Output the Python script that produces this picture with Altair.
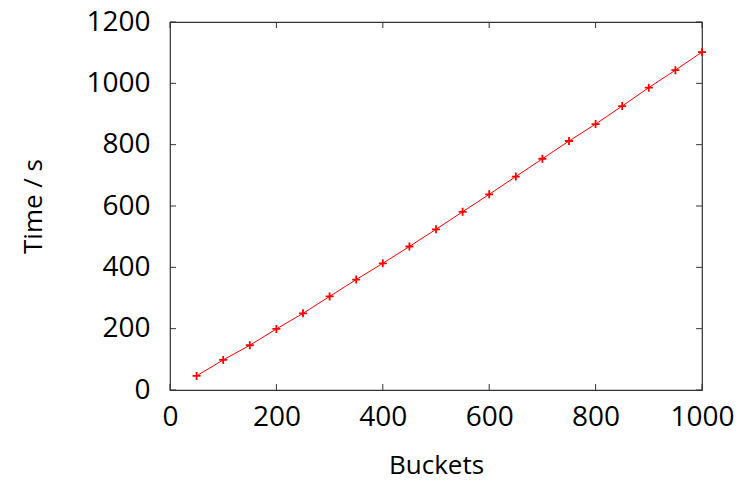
import altair as alt
import pandas as pd

buckets = [50, 100, 150, 200, 250, 300, 350, 400, 450, 500,
           550, 600, 650, 700, 750, 800, 850, 900, 950, 1000]
times = [46, 98, 146, 199, 250, 305, 360, 413, 468, 524,
         581, 638, 696, 754, 812, 867, 926, 986, 1043, 1102]
x_ticks = [0, 200, 400, 600, 800, 1000]
y_ticks = [0, 200, 400, 600, 800, 1000, 1200]

W, H = 532, 368
df = pd.DataFrame({"Buckets": buckets, "Time": times})
xt = pd.DataFrame({"v": x_ticks})
yt = pd.DataFrame({"v": y_ticks})

FONT = "Open Sans"
xscale = alt.Scale(domain=[0, 1000], nice=False)
yscale = alt.Scale(domain=[0, 1200], nice=False)

xaxis = alt.Axis(values=x_ticks, format="d", tickSize=0, domain=False, grid=False,
                 labelFont=FONT, labelFontSize=28, labelColor="#000",
                 labelPadding=13, labelFlush=False,
                 title="Buckets", titleFont=FONT, titleFontSize=26,
                 titleFontWeight="normal", titleColor="#000", titlePadding=21)
yaxis = alt.Axis(values=y_ticks, format="d", tickSize=0, domain=False, grid=False,
                 labelFont=FONT, labelFontSize=28, labelColor="#000",
                 labelPadding=20, labelFlush=False,
                 title="Time / s", titleFont=FONT, titleFontSize=26,
                 titleFontWeight="normal", titleColor="#000", titlePadding=39)

line = alt.Chart(df).mark_line(color="#ff0000", strokeWidth=1).encode(
    x=alt.X("Buckets:Q", scale=xscale, axis=xaxis),
    y=alt.Y("Time:Q", scale=yscale, axis=yaxis),
)
pts = alt.Chart(df).mark_point(
    shape="M-1,0L1,0M0,-1L0,1", size=64, stroke="#ff0000",
    strokeWidth=1.8, filled=False, opacity=1
).encode(
    x=alt.X("Buckets:Q", scale=xscale),
    y=alt.Y("Time:Q", scale=yscale),
)

tick_len = 6
xb = alt.Chart(xt).mark_rule(color="#333", strokeWidth=1).encode(
    x=alt.X("v:Q", scale=xscale), y=alt.value(H), y2=alt.value(H - tick_len))
xtp = alt.Chart(xt).mark_rule(color="#333", strokeWidth=1).encode(
    x=alt.X("v:Q", scale=xscale), y=alt.value(0), y2=alt.value(tick_len))
yl = alt.Chart(yt).mark_rule(color="#333", strokeWidth=1).encode(
    y=alt.Y("v:Q", scale=yscale), x=alt.value(0), x2=alt.value(tick_len))
yr = alt.Chart(yt).mark_rule(color="#333", strokeWidth=1).encode(
    y=alt.Y("v:Q", scale=yscale), x=alt.value(W), x2=alt.value(W - tick_len))

chart = alt.layer(line, pts, xb, xtp, yl, yr).properties(
    width=W, height=H,
    autosize=alt.AutoSizeParams(type="none"),
    padding={"left": 170, "top": 22, "right": 52, "bottom": 97},
    background="white",
).configure_view(stroke="#333", strokeWidth=1.2)

chart.save("out.html", embed_options={"renderer": "svg", "actions": False})
